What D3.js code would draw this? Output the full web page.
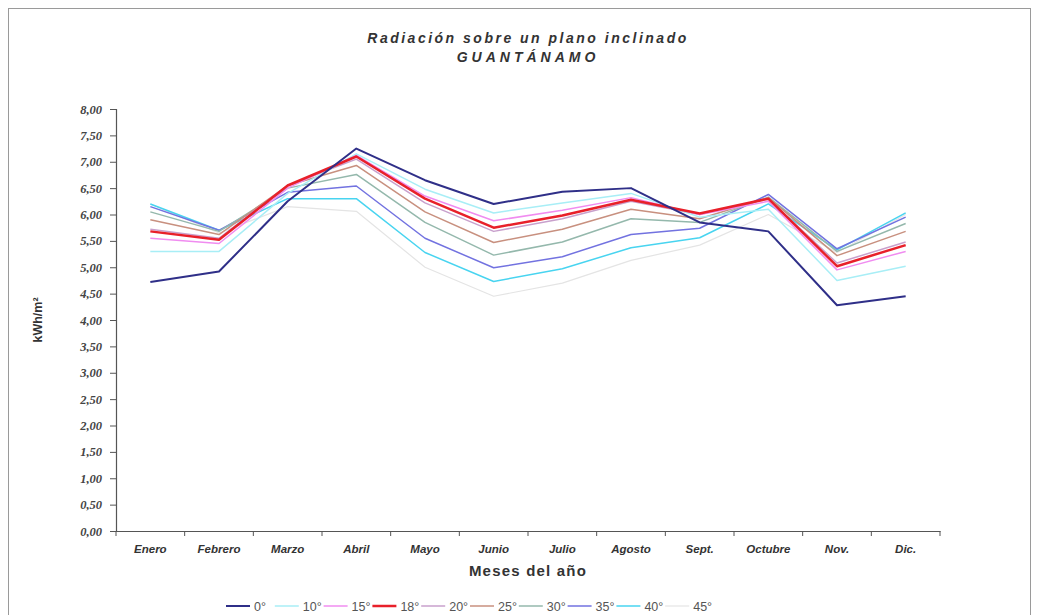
<!DOCTYPE html>
<html><head><meta charset="utf-8">
<script src="https://cdn.jsdelivr.net/npm/d3@7"></script>
<style>
html,body{margin:0;padding:0;background:#fff;}
svg{display:block;}
</style></head>
<body>
<svg id="chart" width="1040" height="615"></svg>
<script>
const months = ["Enero","Febrero","Marzo","Abril","Mayo","Junio","Julio","Agosto","Sept.","Octubre","Nov.","Dic."];
const seriesNames = ["0°","10°","15°","18°","20°","25°","30°","35°","40°","45°"];
const s0  = [4.72, 4.92, 6.25, 7.25, 6.65, 6.20, 6.43, 6.50, 5.85, 5.68, 4.28, 4.45];
const s10 = [5.30, 5.30, 6.40, 7.15, 6.48, 6.03, 6.22, 6.40, 5.95, 6.10, 4.75, 5.02];
const s15 = [5.55, 5.45, 6.50, 7.12, 6.35, 5.88, 6.08, 6.32, 6.00, 6.25, 4.95, 5.30];
const s18 = [5.68, 5.52, 6.55, 7.10, 6.30, 5.75, 5.98, 6.28, 6.02, 6.30, 5.02, 5.42];
const s20 = [5.72, 5.55, 6.55, 7.05, 6.22, 5.68, 5.92, 6.25, 6.00, 6.30, 5.08, 5.48];
const s25 = [5.90, 5.62, 6.55, 6.93, 6.05, 5.47, 5.72, 6.10, 5.92, 6.32, 5.22, 5.68];
const s30 = [6.05, 5.68, 6.50, 6.76, 5.85, 5.23, 5.48, 5.92, 5.85, 6.33, 5.30, 5.83];
const s35 = [6.15, 5.70, 6.42, 6.54, 5.55, 4.99, 5.20, 5.62, 5.74, 6.38, 5.35, 5.95];
const s40 = [6.20, 5.70, 6.30, 6.30, 5.28, 4.73, 4.97, 5.37, 5.56, 6.20, 5.33, 6.03];
const s45 = [6.20, 5.65, 6.15, 6.06, 5.00, 4.45, 4.70, 5.13, 5.42, 6.00, 5.28, 6.00];
const yTicks = [0,0.5,1,1.5,2,2.5,3,3.5,4,4.5,5,5.5,6,6.5,7,7.5,8];
const titleLines = ["Radiación sobre un plano inclinado","GUANTÁNAMO"];
const xTitle = "Meses del año";
const yTitle = "kWh/m²";

const seriesValues = [s0,s10,s15,s18,s20,s25,s30,s35,s40,s45];
const colors = ["#2f2f88","#a8eef6","#f08cf0","#e8202a","#c8a0cc","#c8907f","#94b8ac","#7272e0","#48d4f0","#e4e4e4"];
const widths = [2,1.5,1.5,2.5,1.5,1.5,1.5,1.5,1.5,1.2];

const svg = d3.select("#chart");
svg.append("rect").attr("x",8.5).attr("y",8.5).attr("width",1022).attr("height",640)
  .attr("fill","#fff").attr("stroke","#9a9a9a").attr("stroke-width",1);

const x = d3.scaleBand().domain(months).range([116,940]).padding(0);
const y = d3.scaleLinear().domain([0,8]).range([531,109]);
const loc = d3.formatLocale({decimal:",",thousands:".",grouping:[3],currency:["",""]});
const fmt = loc.format(".2f");

// title
svg.append("g").selectAll("text").data(titleLines).join("text")
  .attr("x",528).attr("y",(d,i)=>43+i*19).attr("text-anchor","middle")
  .attr("font-family","Liberation Sans, Arial, sans-serif").attr("font-weight","bold").attr("font-style","italic")
  .attr("font-size",14).attr("letter-spacing",(d,i)=>i?"4px":"2.5px").attr("fill","#333").text(d=>d);

// y axis
const gy = svg.append("g").attr("transform","translate(116,0)")
  .call(d3.axisLeft(y).tickValues(yTicks).tickFormat(fmt).tickSize(6).tickPadding(8));
gy.select(".domain").attr("stroke","#555").attr("stroke-width",1.2);
gy.selectAll(".tick line").attr("stroke","#555");
gy.selectAll("text").attr("font-family","Liberation Serif, Times New Roman, serif").attr("font-style","italic")
  .attr("font-weight","bold").attr("font-size",12.5).attr("fill","#444");

// x axis
const gx = svg.append("g").attr("transform","translate(0,531)")
  .call(d3.axisBottom(x).tickSize(0).tickPadding(14));
gx.select(".domain").attr("stroke","#555").attr("stroke-width",1.2);
gx.selectAll("text").attr("font-family","Liberation Sans, Arial, sans-serif").attr("font-style","italic")
  .attr("font-weight","bold").attr("font-size",11.5).attr("fill","#333");
const bounds = months.map(m=>x(m)).concat([x.range()[1]]);
svg.append("g").selectAll("line").data(bounds).join("line")
  .attr("x1",d=>d).attr("x2",d=>d).attr("y1",531).attr("y2",536)
  .attr("stroke","#555");

// axis titles
svg.append("text").attr("x",528).attr("y",576).attr("text-anchor","middle")
  .attr("font-family","Liberation Sans, Arial, sans-serif").attr("font-weight","bold")
  .attr("font-size",15).attr("letter-spacing","1.2px").attr("fill","#333").text(xTitle);
svg.append("text").attr("transform","translate(42,320) rotate(-90)").attr("text-anchor","middle")
  .attr("font-family","Liberation Sans Narrow, Liberation Sans, Arial, sans-serif").attr("font-weight","bold")
  .attr("font-size",12.5).attr("fill","#333").text(yTitle);

// lines
const line = d3.line().x((d,i)=>x(months[i])+x.bandwidth()/2).y(d=>y(d));
const order = [9,8,7,6,5,4,1,2,3,0];
svg.append("g").selectAll("path").data(order).join("path")
  .attr("d",k=>line(seriesValues[k])).attr("fill","none")
  .attr("stroke",k=>colors[k]).attr("stroke-width",k=>widths[k])
  .attr("stroke-linejoin","round");

// legend
const lg = svg.append("g").selectAll("g").data(seriesNames).join("g")
  .attr("transform",(d,i)=>`translate(${226+i*48.8},606)`);
lg.append("line").attr("x1",0).attr("x2",24).attr("y1",0).attr("y2",0)
  .attr("stroke",(d,i)=>colors[i]).attr("stroke-width",(d,i)=>widths[i]);
lg.append("text").attr("x",28).attr("y",4.5).attr("font-family","Liberation Sans Narrow, Liberation Sans, Arial, sans-serif")
  .attr("font-size",12.5).attr("fill","#555").text(d=>d);
</script>
</body></html>
